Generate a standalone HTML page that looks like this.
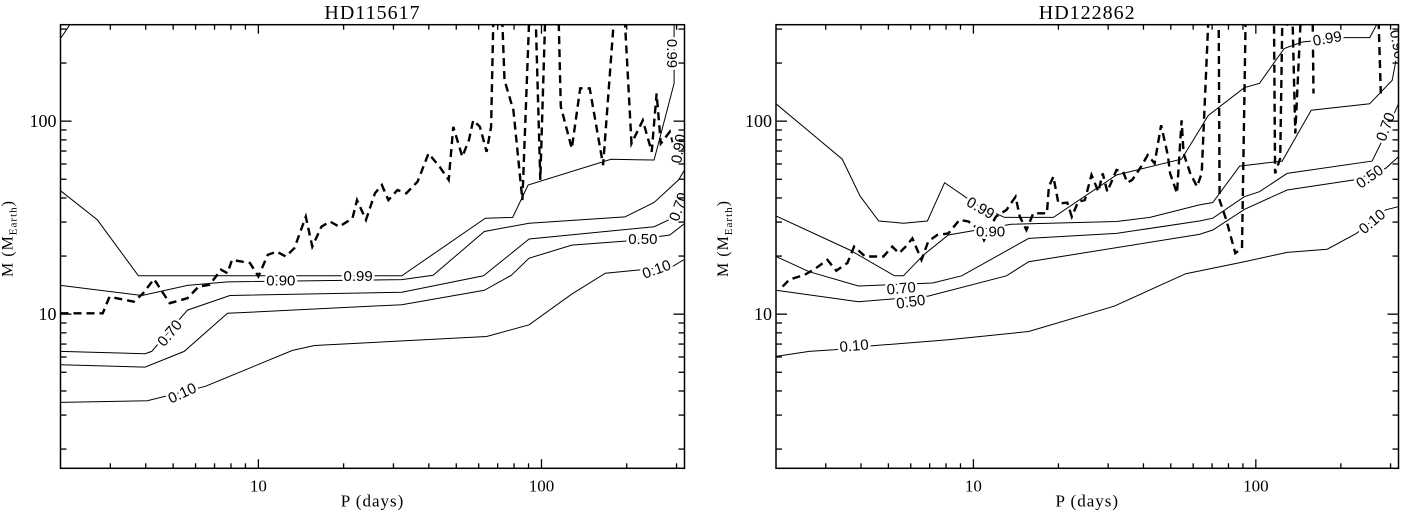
<!DOCTYPE html>
<html><head><meta charset="utf-8"><style>
html,body{margin:0;padding:0;background:#fff;}
svg{display:block;font-family:"Liberation Serif",serif;}
</style></head><body>
<svg id="fig" width="1402" height="514" viewBox="0 0 1402 514"></svg>
<script>
// ---------- Data (P in days, M in Earth masses) ----------
const L_c99 = [[2.0,43.6],[2.70,30.8],[3.77,15.8],[32.1,15.8],[63.3,31.4],[79.1,31.7],[89.7,46.7],[176,63.4],[250,62.9],[294,157],[294,330]];
const L_c999 = [[2.0,268],[2.11,301],[2.2,330]];
const L_c90 = [[2.0,14.1],[3.88,12.5],[5.62,14.1],[7.78,14.7],[32.1,15.1],[41.4,15.9],[62.8,26.8],[90.4,29.6],[197,31.9],[250,37.9],[305,49.6],[325,58]];
const L_c70 = [[2.0,6.41],[3.98,6.24],[4.20,6.41],[5.62,10.5],[7.93,12.5],[32.1,13.0],[62.4,15.8],[90.4,24.5],[250,28.4],[294,31.7],[325,36]];
const L_c50 = [[2.0,5.47],[3.98,5.32],[5.47,6.41],[7.78,10.1],[32.1,11.2],[62.8,13.3],[78.2,15.9],[90.4,19.5],[128,22.8],[197,23.9],[284,25.7],[325,30]];
const L_c10 = [[2.0,3.49],[4.05,3.56],[6.50,4.23],[13.2,6.49],[15.8,6.88],[64.0,7.66],[90.4,8.81],[128,12.7],[168,16.3],[289,17.6],[325,19.5]];
const L_dash = [[2.0,10.1],[2.82,10.1],[2.98,12.3],[3.63,11.6],[3.91,12.8],[4.28,15.2],[4.86,11.4],[5.62,12.1],[6.15,13.9],[6.73,14.2],[7.38,17.0],[7.78,16.3],[8.07,19.1],[9.33,18.4],[10.0,15.7],[10.8,20.3],[11.6,21.1],[12.5,19.9],[13.4,22.0],[14.7,32.0],[15.5,22.4],[16.7,28.4],[17.9,30.2],[19.3,28.4],[21.5,31.4],[22.3,39.0],[24.0,30.8],[25.8,42.3],[27.3,46.7],[28.8,39.0],[31.0,44.0],[33.3,42.3],[36.5,48.6],[39.9,68.0],[43.7,58.0],[47.0,49.6],[48.8,93.5],[52.5,65.4],[55.4,79.7],[57.4,101],[60.6,93.5],[64.0,69.4],[66.4,93.5],[67.6,330],[72.7,330],[74.0,163],[79.6,114],[85.6,39.0],[90.4,330],[95.5,330],[99.0,49.6],[103,330],[115,330],[117,119],[128,72.2],[137,148],[148,148],[165,59.2],[180,330],[197,330],[208,76.6],[228,101],[245,69.4],[255,139],[264,76.6],[284,88.1],[294,73.6]];
const L_labels = ["0.99","0.90","0.70","0.10","0.50","0.10","0.99","0.90","0.70"];
const L_labelPos = [[22.5,15.8,0],[12.0,14.9,0],[4.86,7.98,-50],[5.38,3.9,-25],[228,24.5,0],[255,17.1,-20],[289,224,90],[305,72,-80],[305,36,-70]];

const R_c99 = [[2.0,123],[3.43,63.6],[3.97,40.9],[4.62,30.4],[5.65,29.6],[6.87,30.4],[7.91,48.0],[10.3,36.8],[12.9,31.7],[19.2,31.7],[32.1,52.6],[54.6,63.6],[67.9,107],[91.0,149],[103,157],[126,238],[146,257],[207,271],[253,271],[272,330]];
const R_c90 = [[2.0,32.3],[3.65,21.5],[5.26,15.8],[5.65,15.8],[6.67,20.3],[8.15,25.7],[9.61,26.8],[13.6,29.2],[32.1,30.2],[42.2,31.7],[63.1,36.8],[70.4,37.9],[87.7,58.5],[124,62.1],[157,114],[253,123],[304,163],[318,230],[320,330]];
const R_c70 = [[2.0,19.9],[2.62,16.6],[3.92,14.0],[7.17,14.5],[9.09,15.8],[15.7,24.7],[32.1,26.2],[63.1,30.4],[70.4,31.4],[91.0,40.6],[103,43.1],[129,53.6],[258,62.1],[277,76.6],[320,123]];
const R_c50 = [[2.0,13.3],[3.92,11.6],[6.92,12.4],[13.1,15.8],[15.7,18.7],[63.1,25.9],[70.4,27.3],[91.0,34.9],[129,44.0],[223,49.6],[288,56.9],[320,65.4]];
const R_c10 = [[2.0,6.04],[2.62,6.41],[3.21,6.54],[4.38,6.86],[8.15,7.37],[15.7,8.13],[31.5,11.0],[56.5,16.2],[91.0,18.7],[129,20.9],[179,21.7],[227,26.2],[288,34.7],[320,36.1]];
const R_dash = [[2.11,13.9],[2.23,15.1],[2.53,16.0],[2.77,17.3],[3.04,19.1],[3.27,16.8],[3.58,18.4],[3.78,22.4],[4.14,19.9],[4.80,19.9],[5.16,22.4],[5.45,20.7],[5.76,22.4],[6.08,24.7],[6.55,19.1],[6.92,23.8],[7.44,25.7],[8.15,26.2],[8.93,30.8],[9.61,30.2],[10.5,27.3],[10.9,24.2],[12.0,32.0],[13.1,34.7],[14.1,40.6],[14.6,32.0],[15.4,27.3],[16.3,33.3],[18.2,33.3],[18.5,45.8],[19.2,51.6],[20.0,37.5],[21.5,37.8],[22.3,32.0],[23.5,38.3],[24.8,39.0],[26.2,52.6],[27.7,43.1],[28.7,53.6],[29.8,43.1],[32.1,55.9],[33.9,54.7],[35.1,48.0],[36.5,49.6],[39.2,58.0],[41.4,66.7],[43.8,60.4],[46.2,95.3],[48.8,66.7],[49.7,53.6],[52.6,42.3],[54.6,101],[55.5,68.0],[58.6,53.6],[61.9,45.8],[64.3,53.6],[67.9,330],[73.9,330],[74.4,39.0],[78.6,30.8],[84.6,20.7],[89.3,22.0],[92.0,330],[116,330],[117,53.6],[122,64.2],[124,304],[135,330],[138,86.3],[144,330],[159,330],[160,139]];
const R_dash2 = [[272,330],[275,200],[277,139]];
const R_labels = ["0.99","0.90","0.70","0.50","0.10","0.99","0.90","0.70","0.50","0.10"];
const R_labelPos = [[10.6,35.5,30],[11.5,26.8,0],[5.55,13.6,-5],[6.0,11.6,-8],[3.78,6.86,-5],[179,268,-10],[317,250,80],[288,93.5,-70],[253,51.6,-35],[258,30.2,-40]];

const xTickMajor = [10,100];
const xTickMinor = [3,4,5,6,7,8,9,20,30,40,50,60,70,80,90,200,300];
const yTickMajor = [10,100];
const yTickMinor = [2,3,4,5,6,7,8,9,20,30,40,50,60,70,80,90,200,300];

const NS = "http://www.w3.org/2000/svg";
const svg = document.getElementById('fig');
function mk(tag, attrs, parent){
  const e = document.createElementNS(NS, tag);
  for (const k in attrs) e.setAttribute(k, attrs[k]);
  (parent||svg).appendChild(e);
  return e;
}
const LX0 = Math.log10(2.0), LX1 = Math.log10(320), LY0 = Math.log10(1.59), LY1 = Math.log10(316);

function panel(px0, px1, py0, py1, title, curves, dashes, labels, labelPos, name){
  const g = mk('g', {});
  
  
  const xs = v => px0 + (Math.log10(v) - LX0) / (LX1 - LX0) * (px1 - px0);
  const ys = v => py1 - (Math.log10(v) - LY0) / (LY1 - LY0) * (py1 - py0);
  const clip = mk('clipPath', {id: 'clip-' + name}, g);
  mk('rect', {x: px0, y: py0, width: px1 - px0, height: py1 - py0}, clip);
  const pg = mk('g', {'clip-path': 'url(#clip-' + name + ')'}, g);
  curves.forEach(c => {
    const p = mk('polyline', {points: c.map(d => xs(d[0]).toFixed(1) + ',' + ys(d[1]).toFixed(1)).join(' '), fill: 'none', stroke: '#000', 'stroke-width': 1}, pg);
    
    
  });
  dashes.forEach(dash => {
    const dp = mk('polyline', {points: dash.map(d => xs(d[0]).toFixed(1) + ',' + ys(d[1]).toFixed(1)).join(' '), fill: 'none', stroke: '#000', 'stroke-width': 2.4, 'stroke-dasharray': '8,5'}, pg);
    
    
  });
  labels.forEach((t, i) => {
    const [p, m, r] = labelPos[i];
    const x = xs(p), y = ys(m);
    const tx = mk('text', {x: x, y: y + 5, 'text-anchor': 'middle', 'font-size': 15, 'font-family': '"Liberation Sans",sans-serif', stroke: '#fff', 'stroke-width': 5, 'paint-order': 'stroke', transform: 'rotate(' + r + ' ' + x + ' ' + y + ')'}, pg);
    tx.textContent = t;
    
    
  });
  const fr = mk('rect', {x: px0, y: py0, width: px1 - px0, height: py1 - py0, fill: 'none', stroke: '#000', 'stroke-width': 1.5}, g);
  
  
  const tk = (x1, y1, x2, y2) => mk('line', {x1, y1, x2, y2, stroke: '#000', 'stroke-width': 1.3}, g);
  xTickMajor.forEach(v => { const x = xs(v); tk(x, py1, x, py1 - 9); tk(x, py0, x, py0 + 9);
    const t = mk('text', {x: x, y: py1 + 23, 'text-anchor': 'middle', 'font-size': 17}, g); t.textContent = v;
      });
  xTickMinor.forEach(v => { const x = xs(v); tk(x, py1, x, py1 - 5); tk(x, py0, x, py0 + 5); });
  yTickMajor.forEach(v => { const y = ys(v); tk(px0, y, px0 + 11, y); tk(px1, y, px1 - 11, y);
    const t = mk('text', {x: px0 - 4, y: y + 6, 'text-anchor': 'end', 'font-size': 18}, g); t.textContent = v;
      });
  yTickMinor.forEach(v => { const y = ys(v); tk(px0, y, px0 + 6, y); tk(px1, y, px1 - 6, y); });
  const tt = mk('text', {x: (px0 + px1) / 2, y: 19, 'text-anchor': 'middle', 'font-size': 20, 'letter-spacing': 1}, g);
  tt.textContent = title;
  
  
  const xl = mk('text', {x: (px0 + px1) / 2, y: py1 + 38, 'text-anchor': 'middle', 'font-size': 17, 'letter-spacing': 1}, g);
  xl.textContent = 'P (days)';
  
  
  const yx = px0 - 48, yy = (py0 + py1) / 2 - 8;
  const yl = mk('text', {x: yx, y: yy, 'text-anchor': 'middle', 'font-size': 16, 'letter-spacing': 1, transform: 'rotate(-90 ' + yx + ' ' + yy + ')'}, g);
  yl.innerHTML = 'M (M<tspan font-size="11" dy="4">Earth</tspan><tspan dy="-4">)</tspan>';
  
  
}
panel(60.5, 684.5, 24.7, 468.3, 'HD115617', [L_c99, L_c999, L_c90, L_c70, L_c50, L_c10], [L_dash], L_labels, L_labelPos, 'panel-hd115617');
panel(776, 1398.5, 24.7, 468.3, 'HD122862', [R_c99, R_c90, R_c70, R_c50, R_c10], [R_dash, R_dash2], R_labels, R_labelPos, 'panel-hd122862');
</script>
</body></html>
